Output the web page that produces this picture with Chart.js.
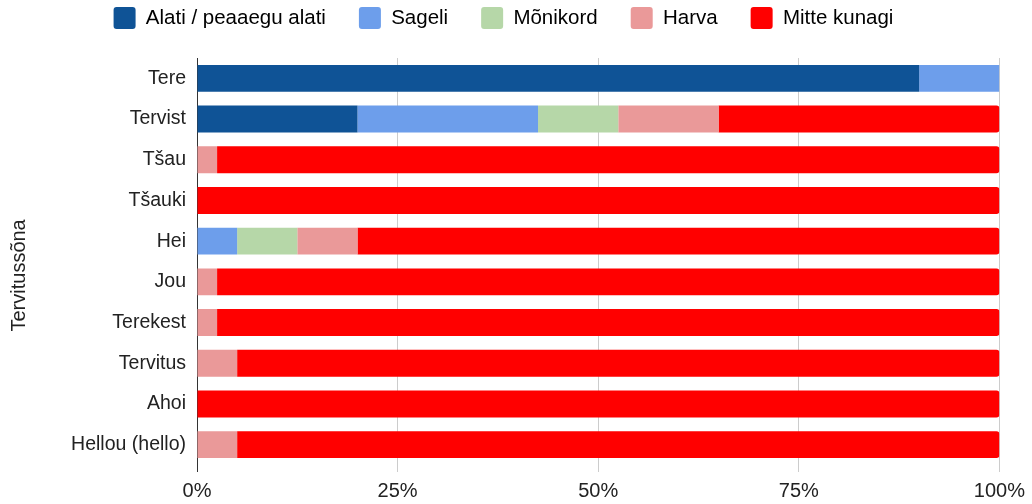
<!DOCTYPE html>
<html>
<head>
<meta charset="utf-8">
<script src="https://cdn.jsdelivr.net/npm/chart.js@4"></script>
<style>
  html, body { margin: 0; padding: 0; background: #fff; }
  #wrap { width: 1032px; height: 504px; }
</style>
</head>
<body>
<div id="wrap"><canvas id="myChart"></canvas></div>
<script>
// DATA (percent of answers)
var greetings = ["Tere", "Tervist", "Tšau", "Tšauki", "Hei", "Jou", "Terekest", "Tervitus", "Ahoi", "Hellou (hello)"];
var answers = ["Alati / peaaegu alati", "Sageli", "Mõnikord", "Harva", "Mitte kunagi"];
var alati   = [90, 20,  0, 0,  0,  0,   0,   0, 0, 0];
var sageli  = [10, 22.5, 0, 0, 5,  0,   0,   0, 0, 0];
var monikord= [0, 10,  0, 0,  7.5, 0,  0,   0, 0, 0];
var harva   = [0, 12.5, 2.5, 0, 7.5, 2.5, 2.5, 5, 0, 5];
var mitte   = [0, 35, 97.5, 100, 80, 97.5, 97.5, 95, 100, 95];
var xTicks = [0, 25, 50, 75, 100];

var colors = ["#0f5396", "#6d9eeb", "#b6d7a8", "#ea9999", "#ff0000"];
var series = [alati, sageli, monikord, harva, mitte];

Chart.defaults.font.family = "'Liberation Sans', Arial, sans-serif";
Chart.defaults.color = "#222";

var datasets = series.map((s, i) => ({
  label: answers[i],
  data: s,
  backgroundColor: colors[i],
  borderWidth: 0,
  borderSkipped: false,
  borderRadius: i == 4 ? {topLeft: 0, bottomLeft: 0, topRight: 3, bottomRight: 3} : 0,
  barPercentage: 0.66,
  categoryPercentage: 1
}));

// extra room between legend and plot, and nudge legend a bit left
const legendGap = {
  id: 'legendGap',
  beforeInit(chart) {
    const fit = chart.legend.fit;
    chart.legend.fit = function() {
      fit.bind(chart.legend)();
      this.height += 19;
    };
  },
  afterLayout(chart) {
    chart.legend.left -= 16;
    chart.legend.right -= 16;
  }
};

const myChart = new Chart("myChart", {
  type: 'bar',
  data: { labels: greetings, datasets: datasets },
  plugins: [legendGap],
  options: {
    indexAxis: 'y',
    responsive: true,
    maintainAspectRatio: false,
    animation: false,
    layout: { padding: { top: -26, right: 7, bottom: -6, left: 14 } },
    plugins: {
      legend: {
        position: 'top',
        labels: {
          font: { size: 20.5 },
          boxWidth: 22,
          boxHeight: 22,
          padding: 33,
          useBorderRadius: true,
          borderRadius: 3,
          generateLabels: (chart) => answers.map((a, i) => ({
            text: a, fillStyle: colors[i], strokeStyle: colors[i], lineWidth: 0, datasetIndex: i, borderRadius: 3
          }))
        }
      },
      tooltip: { enabled: false }
    },
    scales: {
      x: {
        stacked: true,
        min: 0, max: 100,
        afterBuildTicks: (axis) => { axis.ticks = xTicks.map(v => ({ value: v })); },
        ticks: { font: { size: 20 }, callback: (v) => v + '%', padding: 7, maxRotation: 0 },
        grid: { color: (ctx) => ctx.tick && ctx.tick.value == 0 ? '#333' : '#ccc', drawTicks: true, tickLength: 7, lineWidth: 1 },
        border: { display: false }
      },
      y: {
        stacked: true,
        afterFit: (scale) => { scale.width = 183; },
        ticks: { font: { size: 19.5 }, padding: 11 },
        grid: { display: false, drawTicks: false },
        border: { display: false },
        title: { display: true, text: 'Tervitussõna     ', font: { size: 20 }, padding: { top: -7, bottom: 0 } }
      }
    }
  }
});
</script>
</body>
</html>
